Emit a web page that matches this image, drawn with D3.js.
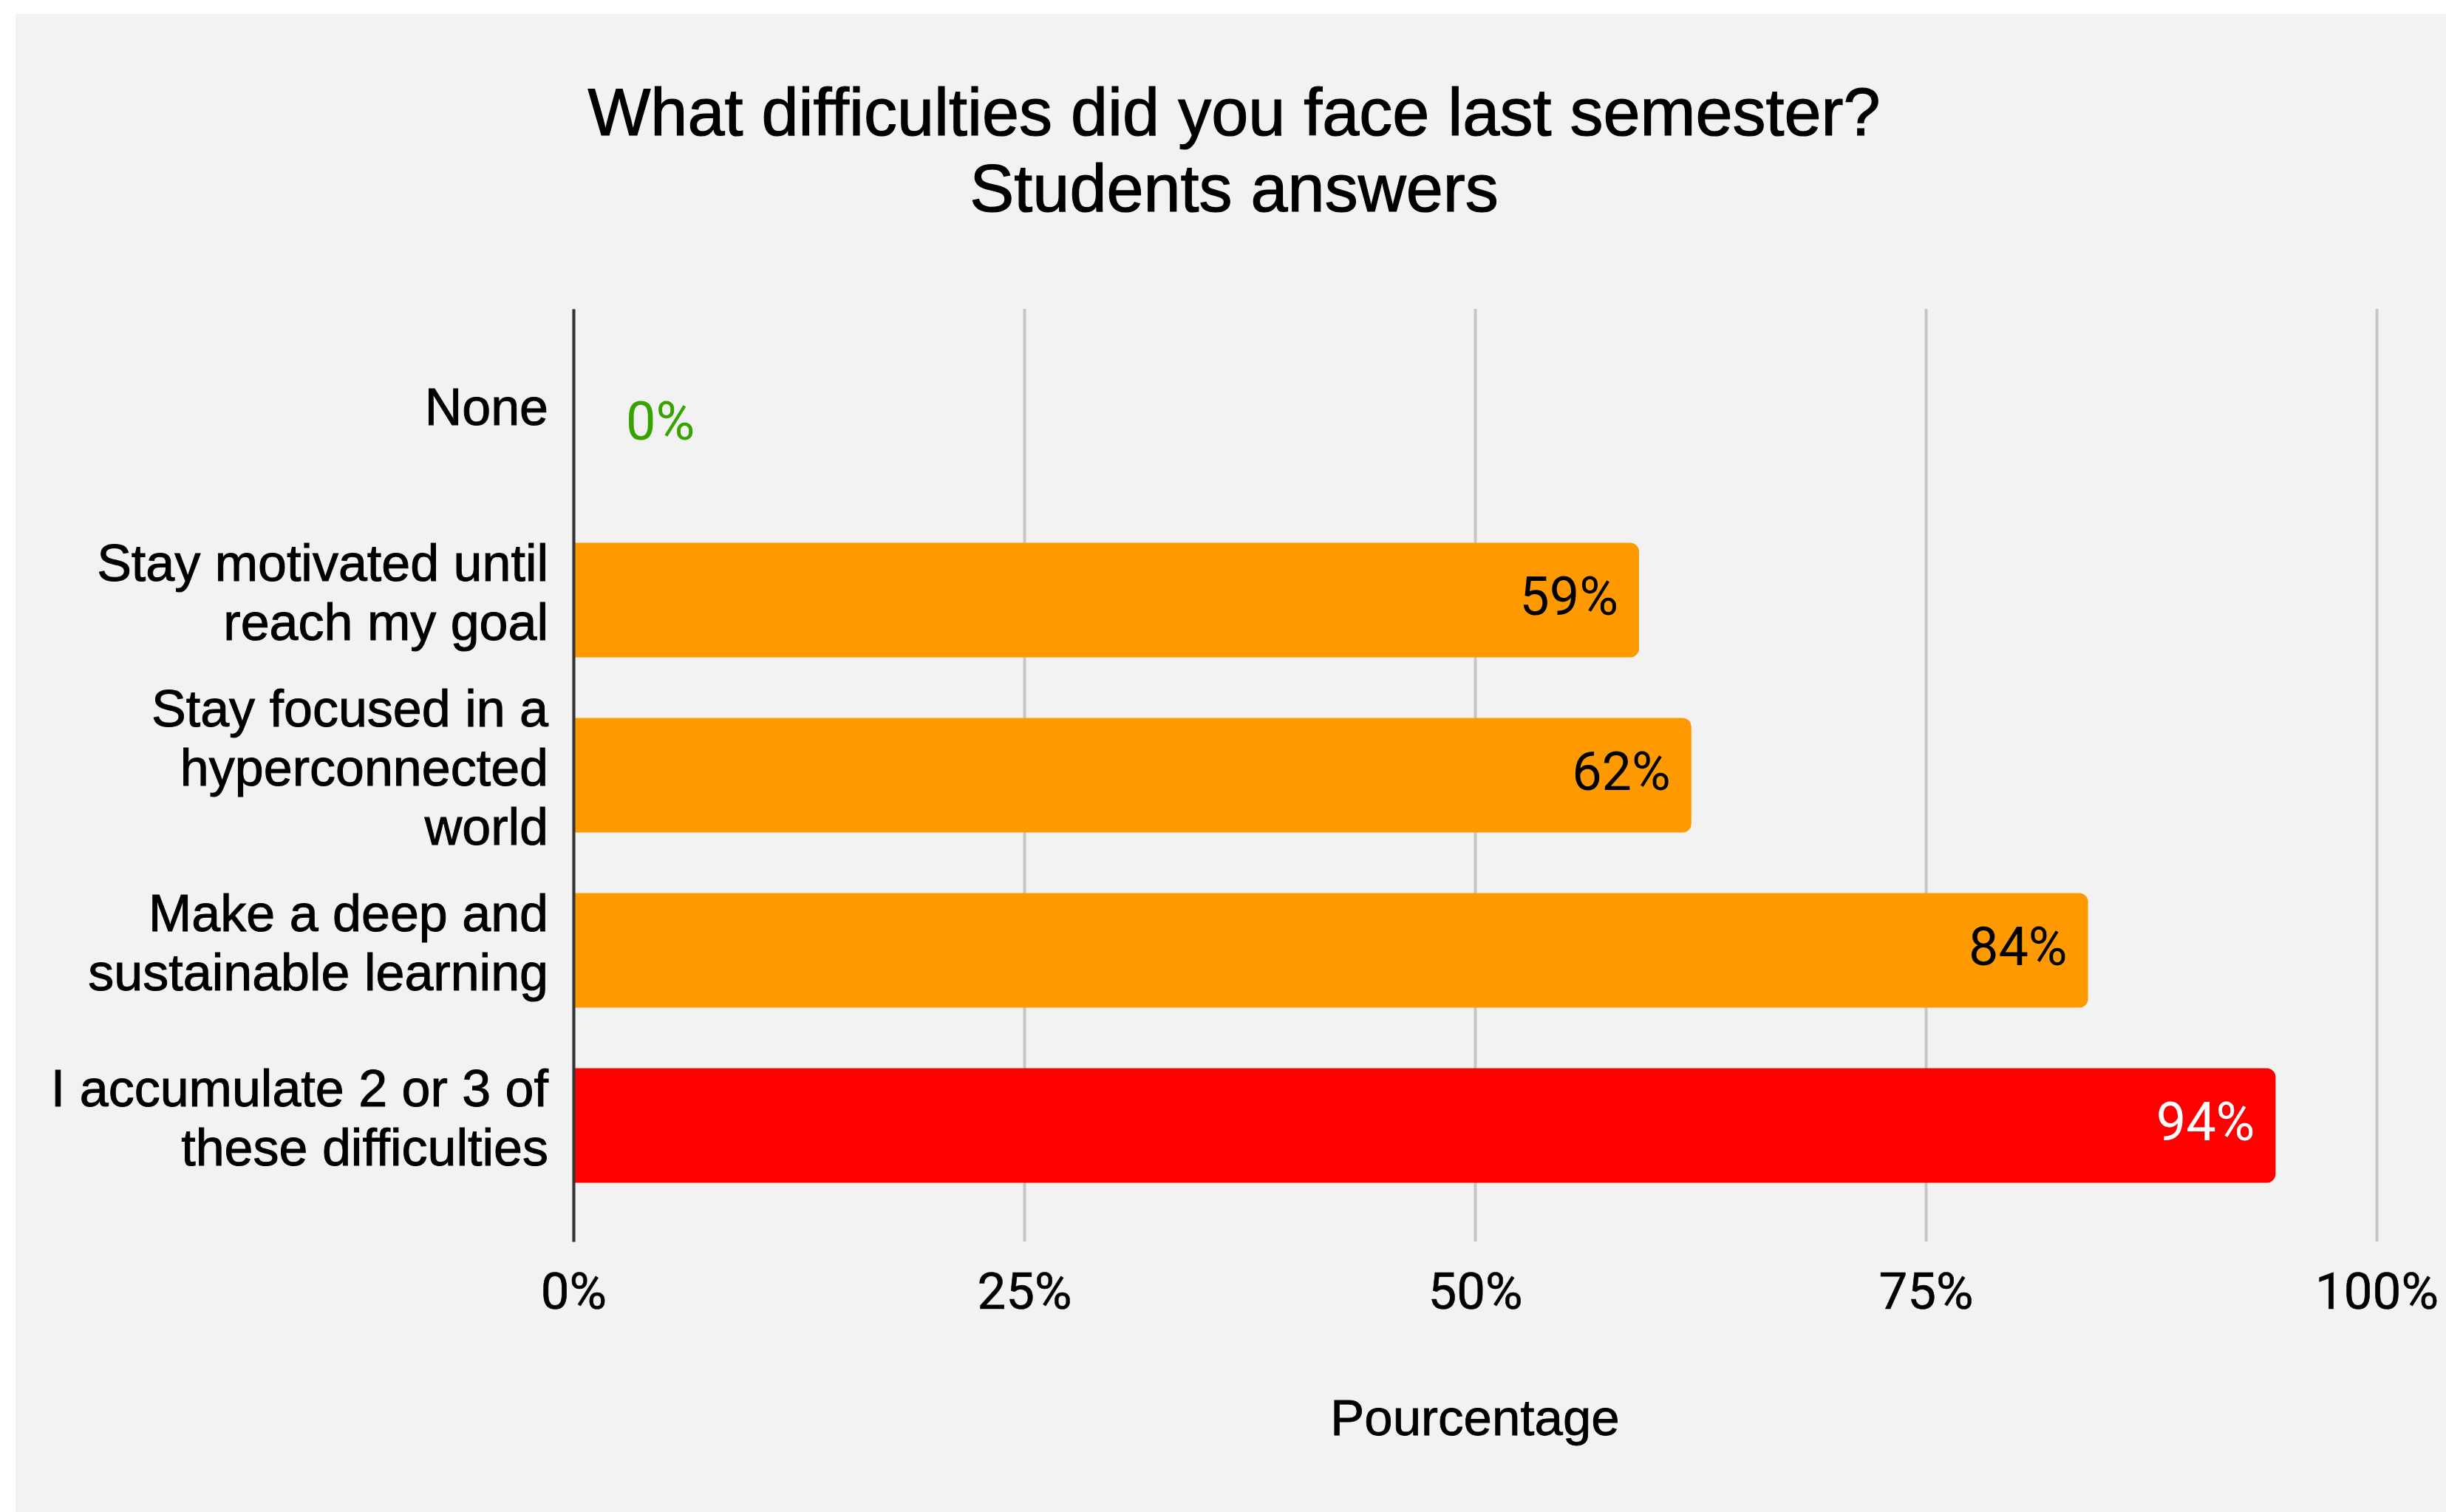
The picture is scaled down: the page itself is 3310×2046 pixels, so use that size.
<!DOCTYPE html>
<html>
<head>
<meta charset="utf-8">
<script src="https://cdn.jsdelivr.net/npm/d3@7"></script>
<style>
  body { margin: 0; background: #ffffff; }
</style>
</head>
<body>
<script>
var w = 3310;
var h = 2046;

// data
var categories = ["None", "Stay motivated until reach my goal", "Stay focused in a hyperconnected world",
  "Make a deep and sustainable learning", "I accumulate 2 or 3 of these difficulties"];
var labelLines = [["None"], ["Stay motivated until", "reach my goal"], ["Stay focused in a", "hyperconnected", "world"],
  ["Make a deep and", "sustainable learning"], ["I accumulate 2 or 3 of", "these difficulties"]];
var values = [0, 0.591, 0.62, 0.84, 0.944];
var tickValues = [0, 0.25, 0.5, 0.75, 1];
var titleLines = ["What difficulties did you face last semester?", "Students answers"];
var xTitle = "Pourcentage";

var svg = d3.select("body")
  .append("svg")
  .attr("width", w)
  .attr("height", h);

// grey panel
svg.append("rect")
  .attr("x", 21).attr("y", 19)
  .attr("width", w - 21).attr("height", h - 19)
  .attr("fill", "#f2f2f2");

var x = d3.scaleLinear().domain([0, 1]).range([776, 3216]);
var y = d3.scaleBand().domain(categories).range([418, 1680])
  .paddingInner(0.346).paddingOuter(0.335);

// gridlines + tick labels
var xAxis = svg.append("g")
  .attr("transform", "translate(0,1680)")
  .call(d3.axisBottom(x).tickValues(tickValues).tickFormat(d3.format(".0%")).tickSize(-1262).tickSizeOuter(0));
xAxis.select(".domain").remove();
xAxis.selectAll("line").attr("stroke", "#c6c6c6").attr("stroke-width", 4);
xAxis.selectAll("text")
  .attr("y", 91).attr("dy", 0)
  .attr("fill", "#000")
  .attr("stroke", "#000").attr("stroke-width", 0.6)
  .style("font-family", "Roboto, sans-serif")
  .style("font-size", "69px");

// bars, rounded on the right end
var r = 12;
function barPath(d, i) {
  var x0 = x(0), x1 = x(d), y0 = y(categories[i]), bh = y.bandwidth();
  if (x1 - x0 < 1) return "";
  var p = d3.path();
  p.moveTo(x0, y0);
  p.lineTo(x1 - r, y0);
  p.arcTo(x1, y0, x1, y0 + r, r);
  p.lineTo(x1, y0 + bh - r);
  p.arcTo(x1, y0 + bh, x1 - r, y0 + bh, r);
  p.lineTo(x0, y0 + bh);
  p.closePath();
  return p.toString();
}

svg.selectAll(".bar")
  .data(values)
  .enter()
  .append("path")
  .attr("class", "bar")
  .attr("d", barPath)
  .attr("fill", function (d, i) {
    return d === d3.max(values) ? "#ff0000" : "#ff9900";
  });

// value labels
svg.selectAll(".val")
  .data(values)
  .enter()
  .append("text")
  .attr("class", "val")
  .attr("x", function (d) {
    return d === 0 ? x(0) + 71 : x(d) - 28;
  })
  .attr("y", function (d, i) {
    return y(categories[i]) + y.bandwidth() / 2 + 20;
  })
  .attr("text-anchor", function (d) { return d === 0 ? "start" : "end"; })
  .attr("fill", function (d) {
    if (d === 0) return "#37a300";
    return d === d3.max(values) ? "#ffffff" : "#000000";
  })
  .style("font-family", "Roboto, sans-serif")
  .style("font-size", "72px")
  .text(function (d) { return d3.format(".0%")(d); });

// y axis line + category labels
var yAxis = svg.append("g")
  .attr("transform", "translate(" + x(0) + ",0)")
  .call(d3.axisLeft(y).tickSize(0).tickSizeOuter(0).tickFormat(""));
yAxis.select(".domain").attr("stroke", "#333333").attr("stroke-width", 4);

var lineH = 80;
svg.selectAll(".cat")
  .data(categories)
  .enter()
  .append("text")
  .attr("class", "cat")
  .attr("text-anchor", "end")
  .attr("fill", "#000")
  .attr("stroke", "#000").attr("stroke-width", 1)
  .style("font-family", "'Liberation Sans', Arial, sans-serif")
  .style("font-size", "70px")
  .each(function (d, i) {
    var lines = labelLines[i];
    var c = y(d) + y.bandwidth() / 2 + (lines.length === 1 ? 0 : 14);
    d3.select(this).selectAll("tspan")
      .data(lines)
      .enter()
      .append("tspan")
      .attr("x", 742)
      .attr("y", function (t, j) { return c + (j - (lines.length - 1) / 2) * lineH; })
      .text(function (t) { return t; });
  });

// title
svg.append("text")
  .attr("text-anchor", "middle")
  .attr("stroke", "#000").attr("stroke-width", 1.2)
  .style("font-family", "'Liberation Sans', Arial, sans-serif")
  .style("font-size", "90px")
  .selectAll("tspan")
  .data(titleLines)
  .enter()
  .append("tspan")
  .attr("x", 1670)
  .attr("y", function (d, i) { return 183 + i * 103; })
  .text(function (d) { return d; });

// x axis title
svg.append("text")
  .attr("x", 1996)
  .attr("y", 1942)
  .attr("text-anchor", "middle")
  .attr("stroke", "#000").attr("stroke-width", 0.8)
  .style("font-family", "'Liberation Sans', Arial, sans-serif")
  .style("font-size", "69px")
  .text(xTitle);
</script>
</body>
</html>
